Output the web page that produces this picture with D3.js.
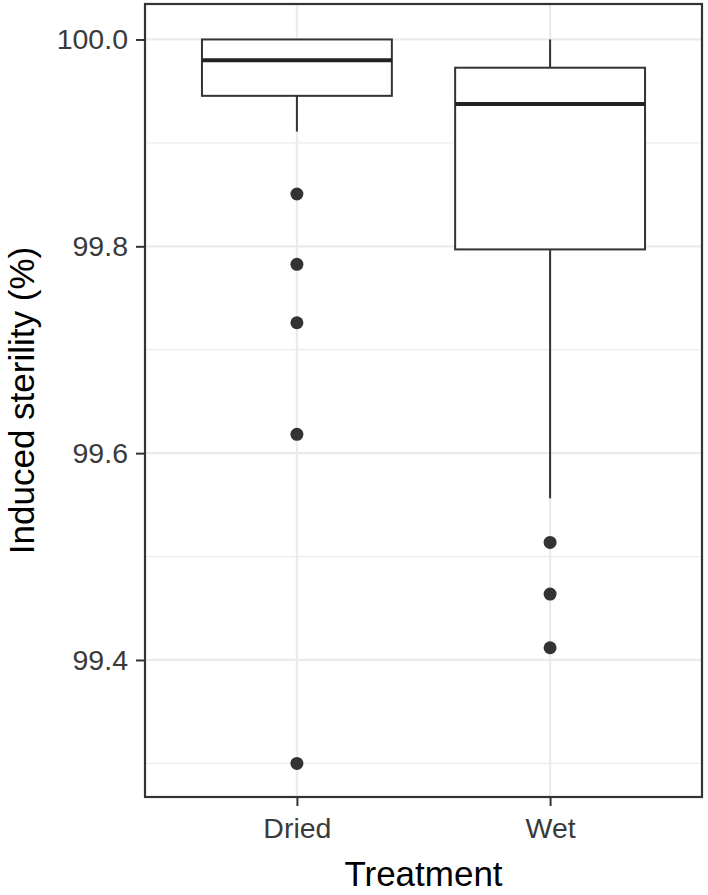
<!DOCTYPE html>
<html>
<head>
<meta charset="utf-8">
<script src="https://cdn.jsdelivr.net/npm/d3@7"></script>
<style>
  body { margin: 0; background: #fff; }
  svg { display: block; font-family: "Liberation Sans", Arial, sans-serif; }
</style>
</head>
<body>
<div id="chart"></div>
<script>
// box summaries
const categories = ["Dried", "Wet"];
const q1 = [99.9455, 99.797];
const median = [99.980, 99.9375];
const q3 = [100.0, 99.9727];
const whiskerLow = [99.911, 99.5563];
const whiskerHigh = [100.0, 100.0];
const outliers = [
  [99.8506, 99.7826, 99.7261, 99.6182, 99.300],
  [99.5137, 99.4637, 99.4118],
];
const majorTicks = [99.4, 99.6, 99.8, 100.0];
const minorTicks = [99.3, 99.5, 99.7, 99.9];

const width = 708;
const height = 895;
const margin = { top: 4, right: 6, bottom: 98, left: 145 };

const svg = d3
  .select("#chart")
  .append("svg")
  .attr("width", width)
  .attr("height", height);

const x = d3
  .scalePoint()
  .domain(categories)
  .range([margin.left, width - margin.right])
  .padding(0.6);

const y = d3
  .scaleLinear()
  .domain([99.2675, 100.0343])
  .range([height - margin.bottom, margin.top]);

const boxW = x.step() * 0.75;
const dark = "#333333";
const grid = "#EBEBEB";

// grid
const gGrid = svg.append("g");
gGrid
  .selectAll(".minor")
  .data(minorTicks)
  .join("line")
  .attr("x1", margin.left)
  .attr("x2", width - margin.right)
  .attr("y1", (d) => y(d))
  .attr("y2", (d) => y(d))
  .attr("stroke", grid)
  .attr("stroke-width", 1.3);
gGrid
  .selectAll(".major")
  .data(majorTicks)
  .join("line")
  .attr("x1", margin.left)
  .attr("x2", width - margin.right)
  .attr("y1", (d) => y(d))
  .attr("y2", (d) => y(d))
  .attr("stroke", grid)
  .attr("stroke-width", 2.2);
gGrid
  .selectAll(".vert")
  .data(categories)
  .join("line")
  .attr("x1", (d) => x(d))
  .attr("x2", (d) => x(d))
  .attr("y1", margin.top)
  .attr("y2", height - margin.bottom)
  .attr("stroke", grid)
  .attr("stroke-width", 2.2);

// boxes
const boxes = categories.map((c, i) => ({
  c,
  q1: q1[i],
  med: median[i],
  q3: q3[i],
  lo: whiskerLow[i],
  hi: whiskerHigh[i],
  out: outliers[i],
}));

const gBox = svg
  .append("g")
  .selectAll("g")
  .data(boxes)
  .join("g");

gBox
  .append("line")
  .attr("x1", (d) => x(d.c))
  .attr("x2", (d) => x(d.c))
  .attr("y1", (d) => y(d.hi))
  .attr("y2", (d) => y(d.q3))
  .attr("stroke", dark)
  .attr("stroke-width", 2);
gBox
  .append("line")
  .attr("x1", (d) => x(d.c))
  .attr("x2", (d) => x(d.c))
  .attr("y1", (d) => y(d.q1))
  .attr("y2", (d) => y(d.lo))
  .attr("stroke", dark)
  .attr("stroke-width", 2);
gBox
  .append("rect")
  .attr("x", (d) => x(d.c) - boxW / 2)
  .attr("width", boxW)
  .attr("y", (d) => y(d.q3))
  .attr("height", (d) => y(d.q1) - y(d.q3))
  .attr("fill", "#fff")
  .attr("stroke", dark)
  .attr("stroke-width", 2);
gBox
  .append("line")
  .attr("x1", (d) => x(d.c) - boxW / 2)
  .attr("x2", (d) => x(d.c) + boxW / 2)
  .attr("y1", (d) => y(d.med))
  .attr("y2", (d) => y(d.med))
  .attr("stroke", "#222")
  .attr("stroke-width", 4);
gBox
  .selectAll("circle")
  .data((d) => d.out.map((v) => ({ c: d.c, v })))
  .join("circle")
  .attr("cx", (d) => x(d.c))
  .attr("cy", (d) => y(d.v))
  .attr("r", 6.5)
  .attr("fill", dark);

// panel border
svg
  .append("rect")
  .attr("x", margin.left)
  .attr("y", margin.top)
  .attr("width", width - margin.left - margin.right)
  .attr("height", height - margin.top - margin.bottom)
  .attr("fill", "none")
  .attr("stroke", dark)
  .attr("stroke-width", 2.2);

// axes
const yAxis = svg
  .append("g")
  .attr("transform", `translate(${margin.left},0)`)
  .call(
    d3.axisLeft(y).tickValues(majorTicks).tickFormat(d3.format(".1f")).tickSize(9).tickPadding(8)
  );
const xAxis = svg
  .append("g")
  .attr("transform", `translate(0,${height - margin.bottom})`)
  .call(d3.axisBottom(x).tickSize(9).tickPadding(12));

[yAxis, xAxis].forEach((g) => {
  g.select(".domain").remove();
  g.selectAll(".tick line").attr("stroke", dark).attr("stroke-width", 2);
  g.selectAll(".tick text")
    .attr("fill", "#3a3a3a")
    .style("font-size", "28.5px")
    .style("font-family", '"Liberation Sans", Arial, sans-serif');
});

// titles
svg
  .append("text")
  .attr("x", (margin.left + width - margin.right) / 2)
  .attr("y", 886)
  .attr("text-anchor", "middle")
  .style("font-size", "35px")
  .text("Treatment");
svg
  .append("text")
  .attr(
    "transform",
    `translate(34,${(margin.top + height - margin.bottom) / 2}) rotate(-90)`
  )
  .attr("text-anchor", "middle")
  .style("font-size", "35px")
  .text("Induced sterility (%)");
</script>
</body>
</html>
